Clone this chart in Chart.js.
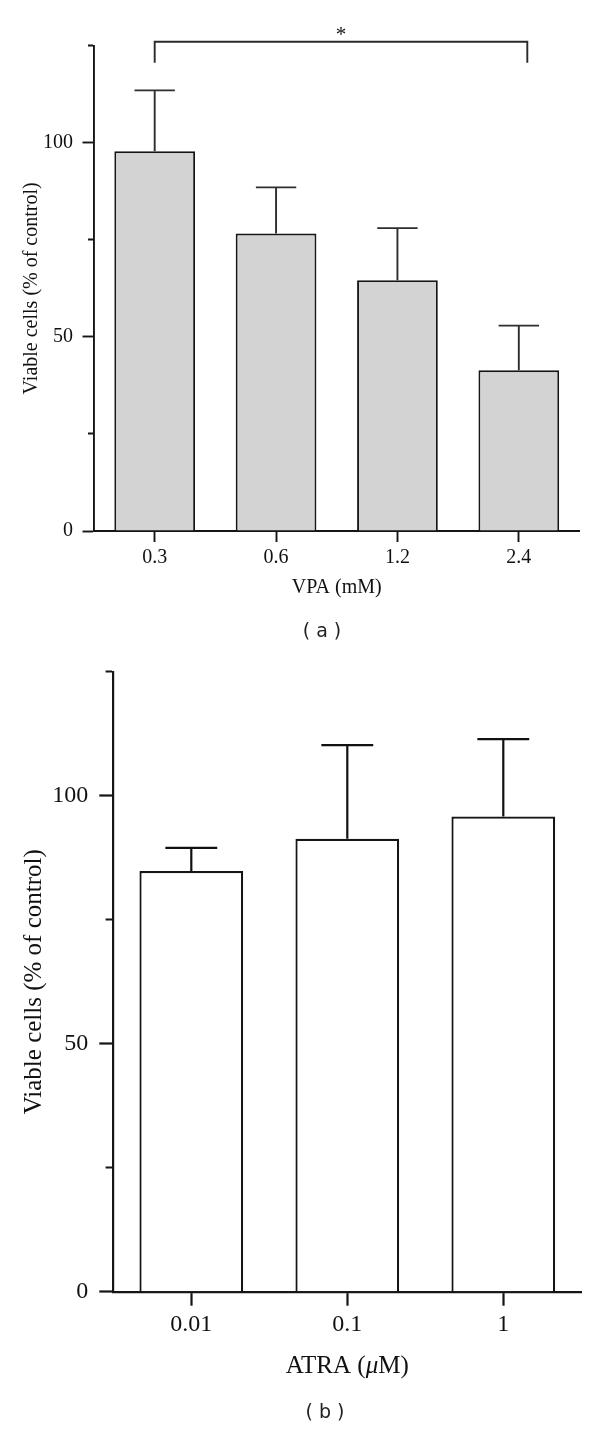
<!DOCTYPE html>
<html>
<head>
<meta charset="utf-8">
<script src="https://cdn.jsdelivr.net/npm/chart.js@4/dist/chart.umd.min.js"></script>
<style>
  body { margin: 0; background: #fff; }
  canvas { display: block; }
</style>
</head>
<body>
<canvas id="vpa" width="600" height="650"></canvas>
<canvas id="atra" width="600" height="780"></canvas>
<script>
// panel (a): VPA
var vpaDoses = ['0.3', '0.6', '1.2', '2.4'];
var vpaViable = [97.8, 76.6, 64.6, 41.4];
var vpaSD = [15.7, 11.9, 13.4, 11.5];

// panel (b): ATRA
var atraDoses = ['0.01', '0.1', '1'];
var atraViable = [84.8, 91.3, 95.8];
var atraSD = [4.7, 18.9, 15.6];

// y axis: 0..125, minor tick every 25, labels only here
var yLabelled = [0, 50, 100];
var yMax = 125;

// significance bracket over (a), 0.3 vs 2.4 mM
var sigFrom = 0, sigTo = 3.07, sigTop = 126, sigLeg = 120.6, sigText = '*';

Chart.defaults.font.family = '"Liberation Serif", "Times New Roman", serif';
Chart.defaults.color = '#111';

var ink = '#151515';

// upward-only SD whiskers, cap is half the bar width
var errorBars = {
  id: 'errorBars',
  afterDatasetsDraw: function(chart) {
    var ctx = chart.ctx, y = chart.scales.y;
    var ds = chart.data.datasets[0];
    var meta = chart.getDatasetMeta(0);
    ctx.save();
    ctx.strokeStyle = ds.whiskerColor;
    ctx.lineWidth = ds.borderWidth;
    meta.data.forEach(function(bar, i) {
      var top = y.getPixelForValue(ds.data[i] + ds.errors[i]);
      var half = bar.width / 4;
      ctx.beginPath();
      ctx.moveTo(bar.x, bar.y);
      ctx.lineTo(bar.x, top);
      ctx.moveTo(bar.x - half, top);
      ctx.lineTo(bar.x + half, top);
      ctx.stroke();
    });
    ctx.restore();
  }
};

var sigBracket = {
  id: 'sigBracket',
  afterDraw: function(chart, args, o) {
    var x = chart.scales.x, y = chart.scales.y, ctx = chart.ctx;
    var x1 = x.getPixelForValue(o.from), x2 = x.getPixelForValue(o.to);
    var yt = y.getPixelForValue(o.top), yl = y.getPixelForValue(o.leg);
    ctx.save();
    ctx.strokeStyle = '#2a2a2a';
    ctx.lineWidth = 1.9;
    ctx.beginPath();
    ctx.moveTo(x1, yl);
    ctx.lineTo(x1, yt);
    ctx.lineTo(x2, yt);
    ctx.lineTo(x2, yl);
    ctx.stroke();
    ctx.fillStyle = '#111';
    ctx.font = '21px "Liberation Serif"';
    ctx.textAlign = 'center';
    ctx.textBaseline = 'alphabetic';
    ctx.fillText(o.text, (x1 + x2) / 2, yt - 1);
    ctx.restore();
  }
};

var caption = {
  id: 'caption',
  afterDraw: function(chart, args, o) {
    var ctx = chart.ctx;
    ctx.save();
    ctx.fillStyle = '#222';
    ctx.font = '19px "DejaVu Sans"';
    ctx.textAlign = 'center';
    ctx.textBaseline = 'middle';
    ctx.fillText(o.text, o.x, o.y);
    ctx.restore();
  }
};

// x title with italic mu, for (b)
var richTitle = {
  id: 'richTitle',
  afterDraw: function(chart, args, o) {
    if (!o.parts) return;
    var ctx = chart.ctx, area = chart.chartArea;
    ctx.save();
    ctx.fillStyle = '#111';
    ctx.textBaseline = 'middle';
    ctx.textAlign = 'left';
    var total = 0;
    o.parts.forEach(function(p) {
      ctx.font = (p.italic ? 'italic ' : '') + o.size + 'px "Liberation Serif"';
      p.w = ctx.measureText(p.text).width;
      total += p.w;
    });
    var cx = (area.left + area.right) / 2 - total / 2;
    o.parts.forEach(function(p) {
      ctx.font = (p.italic ? 'italic ' : '') + o.size + 'px "Liberation Serif"';
      ctx.fillText(p.text, cx, o.y);
      cx += p.w;
    });
    ctx.restore();
  }
};

function panel(id, labels, values, errors, fill, s, extra) {
  var cfg = {
    type: 'bar',
    data: {
      labels: labels,
      datasets: [{
        data: values,
        errors: errors,
        whiskerColor: s.whisker,
        backgroundColor: fill,
        borderColor: ink,
        borderWidth: s.line,
        barPercentage: 0.665,
        categoryPercentage: 1
      }]
    },
    options: {
      responsive: false,
      animation: false,
      layout: { padding: { top: s.top, left: 0, right: s.right, bottom: s.bottom } },
      plugins: {
        legend: { display: false },
        tooltip: { enabled: false },
        caption: extra.caption,
        sigBracket: extra.sig,
        richTitle: extra.rich || {}
      },
      scales: {
        x: {
          offset: true,
          afterFit: function(sc) { sc.height = s.xH; sc.paddingLeft = 0; sc.paddingRight = 0; },
          ticks: { padding: s.xtPad, font: { size: s.font }, maxRotation: 0, autoSkip: false },
          grid: { offset: false, drawOnChartArea: false, tickLength: s.xTick, tickWidth: s.line, tickColor: ink },
          border: { color: ink, width: s.line },
          title: { display: !!s.xTitle, text: s.xTitle, font: { size: s.titleFont }, padding: { top: 0, bottom: 0 } }
        },
        y: {
          min: 0,
          max: yMax,
          afterFit: function(sc) { sc.width = s.axis; sc.paddingTop = 0; sc.paddingBottom = 0; },
          ticks: {
            stepSize: 25,
            padding: s.ytPad,
            font: { size: s.font },
            callback: function(v) { return yLabelled.indexOf(v) >= 0 ? v : ''; }
          },
          grid: {
            drawOnChartArea: false,
            tickLength: s.tick,
            tickWidth: s.line,
            tickColor: ink,
            tickBorderDash: function(c) {
              if (!c.tick || yLabelled.indexOf(c.tick.value) >= 0) return [];
              return [0, s.tick - s.minor, s.minor + 4, 100];
            }
          },
          border: { color: ink, width: s.line },
          title: {
            display: true,
            text: 'Viable cells (% of control)',
            font: { size: s.titleFont },
            padding: { top: s.titlePad, bottom: 0 }
          }
        }
      }
    },
    plugins: [errorBars, caption].concat(extra.sig ? [sigBracket] : []).concat(extra.rich ? [richTitle] : [])
  };
  return new Chart(document.getElementById(id), cfg);
}

panel('vpa', vpaDoses, vpaViable, vpaSD, '#d3d3d3', {
  font: 20, titleFont: 20, axis: 94, right: 20.5, top: 45.7, bottom: 50.5, xH: 68.5,
  tick: 11.5, minor: 6, xTick: 11, ytPad: 9.5, xtPad: 4, titlePad: 20, line: 1.9,
  whisker: '#2e2e2e', xTitle: 'VPA (mM)'
}, {
  caption: { text: '( a )', x: 322, y: 632 },
  sig: { from: sigFrom, to: sigTo, top: sigTop, leg: sigLeg, text: sigText }
});

panel('atra', atraDoses, atraViable, atraSD, '#ffffff', {
  font: 24, titleFont: 25, axis: 113.3, right: 18.7, top: 21.7, bottom: 78.3, xH: 60,
  tick: 14, minor: 7.7, xTick: 14, ytPad: 11, xtPad: 4.9, titlePad: 19, line: 2.2,
  whisker: '#111', xTitle: ''
}, {
  caption: { text: '( b )', x: 325, y: 763 },
  rich: { size: 25, y: 716.7, parts: [{ text: 'ATRA (' }, { text: 'μ', italic: true }, { text: 'M)' }] }
});
</script>
</body>
</html>
